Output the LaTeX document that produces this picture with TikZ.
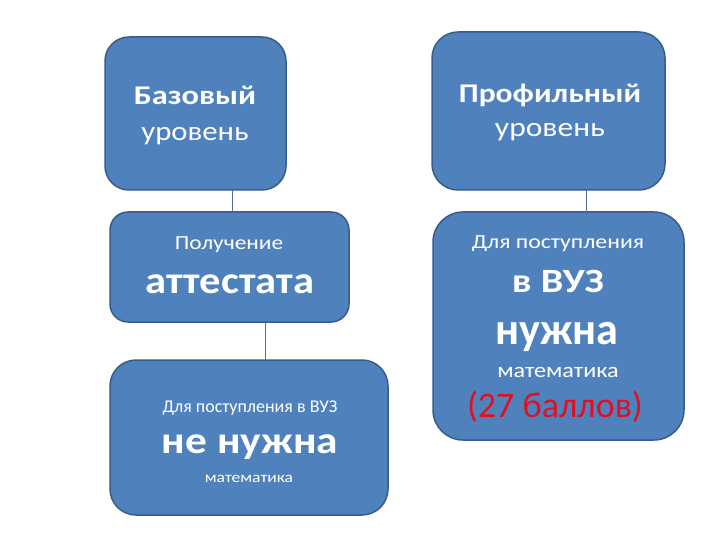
\documentclass[tikz,border=0pt]{standalone}
\usepackage{fontspec}
\usepackage{graphicx}
\setmainfont{Carlito}
\definecolor{boxfill}{HTML}{4F81BD}
\definecolor{boxline}{HTML}{385D8A}
\definecolor{conn}{HTML}{5A6E8C}
\definecolor{redtxt}{HTML}{E01020}
\tikzset{
  box/.style={draw=boxline, line width=1.5pt, fill=boxfill, inner sep=0pt, outer sep=0pt},
  txt/.style={text=white, anchor=base, inner sep=0pt},
  link/.style={draw=conn, line width=0.8pt}
}
\newcommand{\fs}[1]{\fontsize{#1}{#1}\selectfont}
\newcommand{\hs}[2]{\scalebox{#1}[1]{#2}}
\begin{document}
\begin{tikzpicture}[x=1pt,y=-1pt]
\useasboundingbox (0,0) rectangle (720,540);
% boxes
\node[box, rounded corners=24pt, minimum width=181pt, minimum height=153pt] (b1) at (195.5,113.5) {};
\node[box, rounded corners=26pt, minimum width=233pt, minimum height=158pt] (b2) at (548.5,111) {};
\node[box, rounded corners=18pt, minimum width=239pt, minimum height=110pt] (b3) at (229.5,267) {};
\node[box, rounded corners=30pt, minimum width=251pt, minimum height=228pt] (b4) at (558.5,326) {};
\node[box, rounded corners=26pt, minimum width=278pt, minimum height=155pt] (b5) at (249,437.5) {};
% connector columns
\coordinate (c1) at (232,0);
\coordinate (c2) at (586,0);
\coordinate (c3) at (265,0);
\draw[link] (b1.south -| c1) -- (b3.north -| c1);
\draw[link] (b2.south -| c2) -- (b4.north -| c2);
\draw[link] (b3.south -| c3) -- (b5.north -| c3);
% box 1
\node[txt, font=\fs{27}\bfseries] (t11) at (195,105) {\hs{1.2}{Базовый}};
\node[txt, font=\fs{27}] (t12) at (195,141) {\hs{1.14}{уровень}};
% box 2
\node[txt, font=\fs{27}\bfseries] (t21) at (550,103) {\hs{1.17}{Профильный}};
\node[txt, font=\fs{27}] (t22) at (550,137) {\hs{1.17}{уровень}};
% box 3
\node[txt, font=\fs{20}] (t31) at (229,249) {\hs{1.17}{Получение}};
\node[txt, font=\fs{38}\bfseries] (t32) at (230,293) {\hs{1.12}{аттестата}};
% box 4
\node[txt, font=\fs{20}] (t41) at (558,248) {\hs{1.19}{Для поступления}};
\node[txt, font=\fs{34}\bfseries] (t42) at (558,292) {\hs{1.18}{в ВУЗ}};
\node[txt, font=\fs{45}\bfseries] (t43) at (557,344) {\hs{0.98}{нужна}};
\node[txt, font=\fs{21}] (t44) at (558,377) {\hs{1.15}{математика}};
\node[txt, text=redtxt, font=\fs{36}] (t45) at (555,417) {(27 баллов)};
% box 5
\node[txt, font=\fs{18}] (t51) at (250,412) {Для поступления в ВУЗ};
\node[txt, font=\fs{38}\bfseries] (t52) at (250,453) {\hs{1.14}{не нужна}};
\node[txt, font=\fs{15}] (t53) at (249,482) {\hs{1.17}{математика}};
\end{tikzpicture}
\end{document}
